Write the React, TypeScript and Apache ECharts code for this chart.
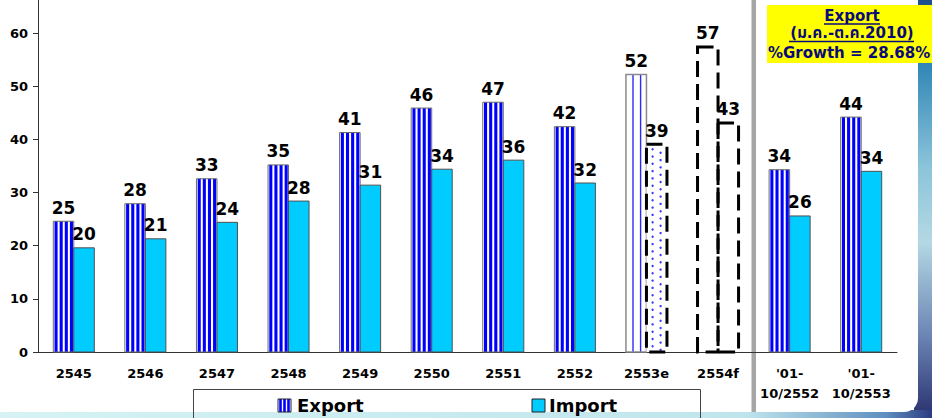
import React, { useEffect, useRef } from "react";
import * as echarts from "echarts";

const categories = [
  "2545", "2546", "2547", "2548", "2549", "2550", "2551", "2552",
  "2553e", "2554f", "'01-\n10/2552", "'01-\n10/2553",
];
const exportValues = [24.6, 27.9, 32.6, 35.2, 41.3, 45.9, 47.0, 42.4, 52.2, 57.4, 34.3, 44.2];
const importValues = [19.6, 21.3, 24.4, 28.4, 31.4, 34.4, 36.1, 31.8, 39.1, 43.1, 25.6, 34.0];
const barKinds = [
  "actual", "actual", "actual", "actual", "actual", "actual", "actual", "actual",
  "estimate", "forecast", "actual", "actual",
];
const seriesNames = ["Export", "Import"];
const yAxisMin = 0;
const yAxisMax = 70;
const yAxisStep = 10;
const boxTitle = "Export";
const boxPeriod = "(ม.ค.-ต.ค.2010)";
const boxGrowth = "%Growth = 28.68%";

const FONT = '"DejaVu Sans", "Noto Sans Thai", "Noto Sans", sans-serif';
const BLUE = "#0000ff";
const CYAN = "#00ccff";

function labelEl(x: number, y: number, v: number) {
  return {
    type: "text",
    x,
    y: y - 5,
    z2: 10,
    style: {
      text: String(Math.round(v)),
      fill: "#000",
      font: `bold 17px ${FONT}`,
      textAlign: "center",
      align: "center",
      textVerticalAlign: "bottom",
      verticalAlign: "bottom",
    },
  };
}

function dashedRect(x: number, y: number, w: number, h: number) {
  return {
    type: "rect",
    shape: { x, y, width: w, height: h },
    style: { fill: "none", stroke: "#000", lineWidth: 3, lineDash: [16, 7] },
  };
}

function makeRender(isExport: boolean) {
  return function (params: any, api: any) {
    const i = api.value(0);
    const v = api.value(1);
    const base = api.coord([i, 0]);
    const top = api.coord([i, v]);
    const cw = api.size([1, 0])[0];
    const bw = cw * 0.2865;
    const x0 = isExport ? base[0] - bw : base[0];
    const y0 = top[1];
    const h = base[1] - top[1];
    const kind = barKinds[i];
    const children: any[] = [];
    if (isExport) {
      if (kind === "actual") {
        children.push({ type: "rect", shape: { x: x0, y: y0, width: bw, height: h }, style: { fill: "#fff" } });
        [0.06, 0.31, 0.56, 0.81].forEach((f) => {
          children.push({
            type: "rect",
            shape: { x: x0 + f * bw, y: y0, width: bw * 0.15, height: h },
            style: { fill: BLUE },
          });
        });
        children.push({
          type: "rect",
          shape: { x: x0, y: y0, width: bw, height: h },
          style: { fill: "none", stroke: "#6a6a6a", lineWidth: 1 },
        });
      } else if (kind === "estimate") {
        children.push({ type: "rect", shape: { x: x0, y: y0, width: bw, height: h }, style: { fill: "#fff" } });
        [0.31, 0.68].forEach((f) => {
          children.push({
            type: "rect",
            shape: { x: x0 + f * bw, y: y0, width: 1.4, height: h },
            style: { fill: "#2a2aff" },
          });
        });
        children.push({
          type: "rect",
          shape: { x: x0, y: y0, width: bw, height: h },
          style: { fill: "none", stroke: "#8a8a8a", lineWidth: 1.5 },
        });
      } else {
        children.push(dashedRect(x0, y0, bw, h));
      }
    } else {
      if (kind === "actual") {
        children.push({
          type: "rect",
          shape: { x: x0, y: y0, width: bw, height: h },
          style: { fill: CYAN, stroke: "#505050", lineWidth: 1 },
        });
      } else if (kind === "estimate") {
        children.push({ type: "rect", shape: { x: x0, y: y0, width: bw, height: h }, style: { fill: "#fff" } });
        for (let yy = y0 + 5; yy < base[1] - 1; yy += 7.3) {
          children.push({ type: "circle", shape: { cx: x0 + bw * 0.3, cy: yy, r: 1.2 }, style: { fill: "#3b3bff" } });
        }
        for (let yy = y0 + 8.6; yy < base[1] - 1; yy += 7.3) {
          children.push({ type: "circle", shape: { cx: x0 + bw * 0.69, cy: yy, r: 1.2 }, style: { fill: "#3b3bff" } });
        }
        children.push(dashedRect(x0, y0, bw, h));
      } else {
        children.push(dashedRect(x0, y0, bw, h));
      }
    }
    children.push(labelEl(x0 + bw / 2, y0, v));
    return { type: "group", children };
  };
}

function legendStripes(x: number, y: number) {
  const items: any[] = [{ type: "rect", shape: { x, y, width: 13, height: 13 }, style: { fill: "#fff" } }];
  [1.2, 5.2, 9.2].forEach((o) => {
    items.push({ type: "rect", shape: { x: x + o, y, width: 2.6, height: 13 }, style: { fill: BLUE } });
  });
  items.push({ type: "rect", shape: { x, y, width: 13, height: 13 }, style: { fill: "none", stroke: "#222", lineWidth: 1 } });
  return items;
}

function buildOption(): any {
  const txt = (text: string, x: number, y: number, size: number, color: string, align = "center") => ({
    type: "text",
    x,
    y,
    style: {
      text,
      fill: color,
      font: `bold ${size}px ${FONT}`,
      textAlign: align,
      align,
      textVerticalAlign: "middle",
      verticalAlign: "middle",
    },
  });
  return {
    animation: false,
    grid: { left: 38, right: 35, top: -20, bottom: 66, containLabel: false, outerBoundsMode: "none" },
    xAxis: {
      type: "category",
      data: categories,
      boundaryGap: true,
      axisLine: { lineStyle: { color: "#333", width: 1 } },
      axisTick: { length: 5, lineStyle: { color: "#333" } },
      axisLabel: {
        interval: 0,
        margin: 11,
        color: "#000",
        fontFamily: FONT,
        fontWeight: "bold",
        fontSize: 13,
        lineHeight: 20,
      },
    },
    yAxis: {
      type: "value",
      min: yAxisMin,
      max: yAxisMax,
      interval: yAxisStep,
      splitLine: { show: false },
      axisLine: { show: true, lineStyle: { color: "#333", width: 1 } },
      axisTick: { show: true, length: 5, lineStyle: { color: "#333" } },
      axisLabel: {
        showMaxLabel: false,
        margin: 10,
        color: "#000",
        fontFamily: FONT,
        fontWeight: "bold",
        fontSize: 13,
      },
    },
    series: [
      {
        name: seriesNames[0],
        type: "custom",
        renderItem: makeRender(true),
        encode: { x: 0, y: 1 },
        data: exportValues.map((v, i) => [i, v]),
        z: 3,
      },
      {
        name: seriesNames[1],
        type: "custom",
        renderItem: makeRender(false),
        encode: { x: 0, y: 1 },
        data: importValues.map((v, i) => [i, v]),
        z: 4,
      },
    ],
    graphic: [
      { type: "rect", shape: { x: 751.5, y: 0, width: 4.5, height: 412 }, style: { fill: "#a6a6a6" } },
      // yellow info box
      { type: "rect", shape: { x: 767, y: 5, width: 170, height: 58 }, style: { fill: "#ffff00" } },
      txt(boxTitle, 852, 16, 15, "#0a0a7a"),
      { type: "line", shape: { x1: 824, y1: 24, x2: 880, y2: 24 }, style: { stroke: "#0a0a7a", lineWidth: 1.3 } },
      txt(boxPeriod, 852, 33, 15, "#0a0a7a"),
      { type: "line", shape: { x1: 789, y1: 41.5, x2: 914, y2: 41.5 }, style: { stroke: "#0a0a7a", lineWidth: 1.3 } },
      txt(boxGrowth, 768, 52.5, 15, "#0a0a7a", "left"),
      // legend box
      { type: "rect", shape: { x: 193, y: 389, width: 507, height: 23 }, style: { fill: "#fff" } },
      {
        type: "polyline",
        shape: { points: [[193.5, 420], [193.5, 389.5], [700.5, 389.5], [700.5, 420]] },
        style: { fill: "none", stroke: "#444", lineWidth: 1 },
      },
      ...legendStripes(278, 399),
      txt(seriesNames[0], 297, 405.5, 18, "#000", "left"),
      { type: "rect", shape: { x: 532, y: 399, width: 13, height: 13 }, style: { fill: CYAN, stroke: "#222", lineWidth: 1 } },
      txt(seriesNames[1], 549, 405.5, 18, "#000", "left"),
    ],
  };
}

export default function App() {
  const ref = useRef<HTMLDivElement>(null);
  useEffect(() => {
    if (!ref.current) return;
    const chart = echarts.init(ref.current, null, { renderer: "svg" });
    chart.setOption(buildOption());
    return () => chart.dispose();
  }, []);
  return (
    <div
      style={{
        position: "fixed",
        left: 0,
        top: 0,
        width: 932,
        height: 418,
        overflow: "hidden",
        background: "#fff",
      }}
    >
      <div
        style={{
          position: "absolute",
          left: 914,
          top: 0,
          width: 18,
          height: 418,
          background:
            "linear-gradient(to bottom, #1d4f8c 0%, #2f86b5 15%, #8cc4da 40%, #b4d8e4 58%, #6c86b4 80%, #28306e 100%)",
        }}
      />
      <div
        style={{
          position: "absolute",
          left: 0,
          top: 410,
          width: 932,
          height: 8,
          background: "linear-gradient(to right, #d6f2f4 0%, #bfe5ec 80%, #5f8fc0 95%, #2c3a80 100%)",
        }}
      />
      <div
        style={{
          position: "absolute",
          left: -20,
          top: -20,
          width: 938,
          height: 432,
          borderRadius: 14,
          background: "#fff",
        }}
      />
      <div ref={ref} style={{ position: "absolute", left: 0, top: 0, width: 932, height: 418 }} />
    </div>
  );
}
